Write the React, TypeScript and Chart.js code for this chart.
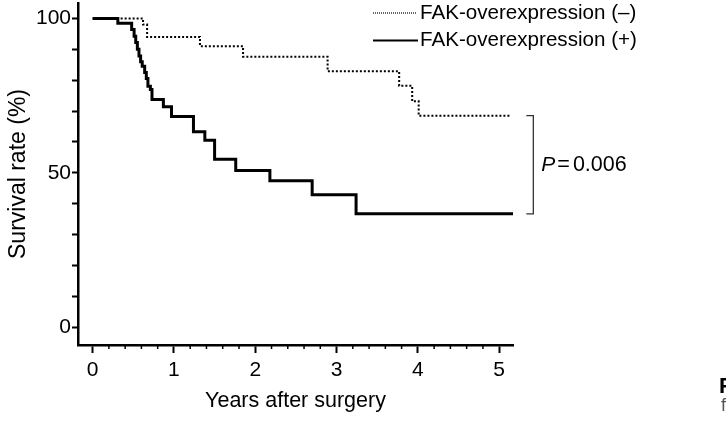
import React, { useEffect, useRef } from "react";
import { Chart, registerables } from "chart.js";

Chart.register(...registerables);

// ---- data ----
const minusYears = [0, 0.62, 0.67, 1.32, 1.85, 2.89, 3.77, 3.93, 4.01, 5.13];
const minusSurvival = [100, 98, 94, 91, 87.6, 82.9, 78.2, 73.2, 68.5, 68.5];

const plusYears = [0, 0.31, 0.48, 0.51, 0.53, 0.55, 0.57, 0.59, 0.61, 0.64, 0.66, 0.68, 0.71, 0.73, 0.87, 0.97, 1.24, 1.38, 1.5, 1.76, 2.18, 2.7, 3.24, 5.17];
const plusSurvival = [100, 98.4, 96.4, 94.2, 92.2, 90, 87.8, 86, 84.5, 82.5, 80.5, 78, 77, 73.7, 71.4, 68.2, 63.3, 60.5, 54.4, 50.7, 47.4, 42.9, 36.7, 36.7];

const seriesLabels = ["FAK-overexpression (\u2013)", "FAK-overexpression (+)"];
const xMajorTicks = [0, 1, 2, 3, 4, 5];
const xMinorTicks = [0.2, 0.4, 0.6, 0.8, 1.2, 1.4, 1.6, 1.8, 2.2, 2.4, 2.6, 2.8, 3.2, 3.4, 3.6, 3.8, 4.2, 4.4, 4.6, 4.8, 5.2];
const yTicks = [0, 10, 20, 30, 40, 50, 60, 70, 80, 90, 100];
const yLabeledTicks = [0, 50, 100];
const xTitle = "Years after surgery";
const yTitle = "Survival rate (%)";
const pLabel = "P";
const pValue = "0.006";
const bracketYear = 5.42;

const FONT = '"Liberation Sans", Arial, Helvetica, sans-serif';

const overlayPlugin = {
  id: "overlay",
  afterDraw(chart: any) {
    const ctx = chart.ctx;
    const xs = chart.scales.x;
    const ys = chart.scales.y;
    const area = chart.chartArea;
    ctx.save();
    // minor x ticks
    ctx.strokeStyle = "#000";
    ctx.lineWidth = 1.5;
    ctx.beginPath();
    for (const v of xMinorTicks) {
      const px = xs.getPixelForValue(v);
      if (px > area.right) continue;
      ctx.moveTo(px, area.bottom - 1);
      ctx.lineTo(px, area.bottom + 4);
    }
    ctx.stroke();

    // legend
    const lx0 = 373, lx1 = 417, tx = 420;
    const rows = [13, 40.5];
    ctx.lineCap = "butt";
    ctx.setLineDash([1, 1]);
    ctx.lineWidth = 1.2;
    ctx.beginPath();
    ctx.moveTo(lx0, rows[0]);
    ctx.lineTo(lx1, rows[0]);
    ctx.stroke();
    ctx.setLineDash([]);
    ctx.lineWidth = 2.2;
    ctx.beginPath();
    ctx.moveTo(lx0, rows[1]);
    ctx.lineTo(lx1 + 1, rows[1]);
    ctx.stroke();
    ctx.fillStyle = "#000";
    ctx.font = `20.6px ${FONT}`;
    ctx.textAlign = "left";
    ctx.textBaseline = "middle";
    ctx.fillText(seriesLabels[0], tx, rows[0]);
    ctx.fillText(seriesLabels[1], tx, rows[1]);

    // bracket with P value
    const bx = xs.getPixelForValue(bracketYear);
    const by0 = ys.getPixelForValue(minusSurvival[minusSurvival.length - 1]);
    const by1 = ys.getPixelForValue(plusSurvival[plusSurvival.length - 1]);
    ctx.strokeStyle = "#333";
    ctx.lineWidth = 1.3;
    ctx.beginPath();
    ctx.moveTo(bx - 7, by0);
    ctx.lineTo(bx, by0);
    ctx.lineTo(bx, by1);
    ctx.lineTo(bx - 7, by1);
    ctx.stroke();
    const py = (by0 + by1) / 2;
    let px = bx + 8;
    ctx.font = `italic 21px ${FONT}`;
    ctx.fillText(pLabel, px, py);
    px += ctx.measureText(pLabel).width + 2;
    ctx.font = `21.5px ${FONT}`;
    ctx.fillText("=", px, py);
    px += ctx.measureText("=").width + 3;
    ctx.fillText(pValue, px, py);

    // cut-off caption fragment at lower right
    ctx.font = `bold 22px ${FONT}`;
    ctx.fillText("F", 719, 387);
    ctx.fillStyle = "#555";
    ctx.font = `18px ${FONT}`;
    ctx.fillText("f", 721, 406);
    ctx.restore();
  },
};

export default function App() {
  const ref = useRef<HTMLCanvasElement>(null);
  useEffect(() => {
    if (!ref.current) return;
    const chart = new Chart(ref.current, {
      type: "line",
      data: {
        datasets: [
          {
            label: seriesLabels[1],
            data: plusYears.map((x, i) => ({ x, y: plusSurvival[i] })),
            borderColor: "#000",
            borderWidth: 3,
            stepped: true,
            fill: false,
            pointRadius: 0,
            borderCapStyle: "butt",
            borderJoinStyle: "miter",
          },
          {
            label: seriesLabels[0],
            data: minusYears.map((x, i) => ({ x, y: minusSurvival[i] })),
            borderColor: "#000",
            borderWidth: 2,
            borderDash: [2, 2],
            stepped: true,
            fill: false,
            pointRadius: 0,
            borderCapStyle: "butt",
          },
        ],
      },
      options: {
        responsive: false,
        animation: false,
        devicePixelRatio: 1,
        layout: { padding: { left: 0, right: 213, top: 3, bottom: 0 } },
        plugins: { legend: { display: false }, tooltip: { enabled: false } },
        elements: { point: { radius: 0 } },
        scales: {
          x: {
            type: "linear",
            min: -0.18,
            max: 5.17,
            afterBuildTicks: (s: any) => {
              s.ticks = xMajorTicks.map((v) => ({ value: v }));
            },
            afterFit: (s: any) => {
              s.height = 77;
              s.paddingLeft = 0;
              s.paddingRight = 0;
            },
            grid: { drawOnChartArea: false, drawTicks: true, tickLength: 8, tickWidth: 2, tickColor: "#000" },
            border: { display: true, color: "#000", width: 2.5 },
            ticks: {
              color: "#000",
              font: { family: FONT, size: 21 },
              padding: 5,
              maxRotation: 0,
              autoSkip: false,
              callback: (v: any) => String(v),
            },
            title: {
              display: true,
              text: xTitle,
              color: "#000",
              font: { family: FONT, size: 21.5 },
              padding: { top: 0, bottom: 8 },
            },
          },
          y: {
            type: "linear",
            min: -5.8,
            max: 105,
            afterBuildTicks: (s: any) => {
              s.ticks = yTicks.map((v) => ({ value: v }));
            },
            afterFit: (s: any) => {
              s.width = 78;
              s.paddingTop = 0;
              s.paddingBottom = 0;
            },
            grid: { drawOnChartArea: false, drawTicks: true, tickLength: 6, tickWidth: 2, tickColor: "#000" },
            border: { display: true, color: "#000", width: 2.5 },
            ticks: {
              color: "#000",
              font: { family: FONT, size: 21 },
              padding: 1,
              autoSkip: false,
              callback: (v: any) => (yLabeledTicks.includes(v) ? String(v) : ""),
            },
            title: {
              display: true,
              text: yTitle,
              color: "#000",
              font: { family: FONT, size: 23 },
              padding: { top: 5, bottom: 0 },
            },
          },
        },
      },
      plugins: [overlayPlugin],
    } as any);
    return () => chart.destroy();
  }, []);
  return (
    <div style={{ position: "fixed", left: 0, top: 0, width: 726, height: 422, background: "#fff" }}>
      <canvas ref={ref} width={726} height={422} style={{ display: "block", width: 726, height: 422 }} />
    </div>
  );
}
